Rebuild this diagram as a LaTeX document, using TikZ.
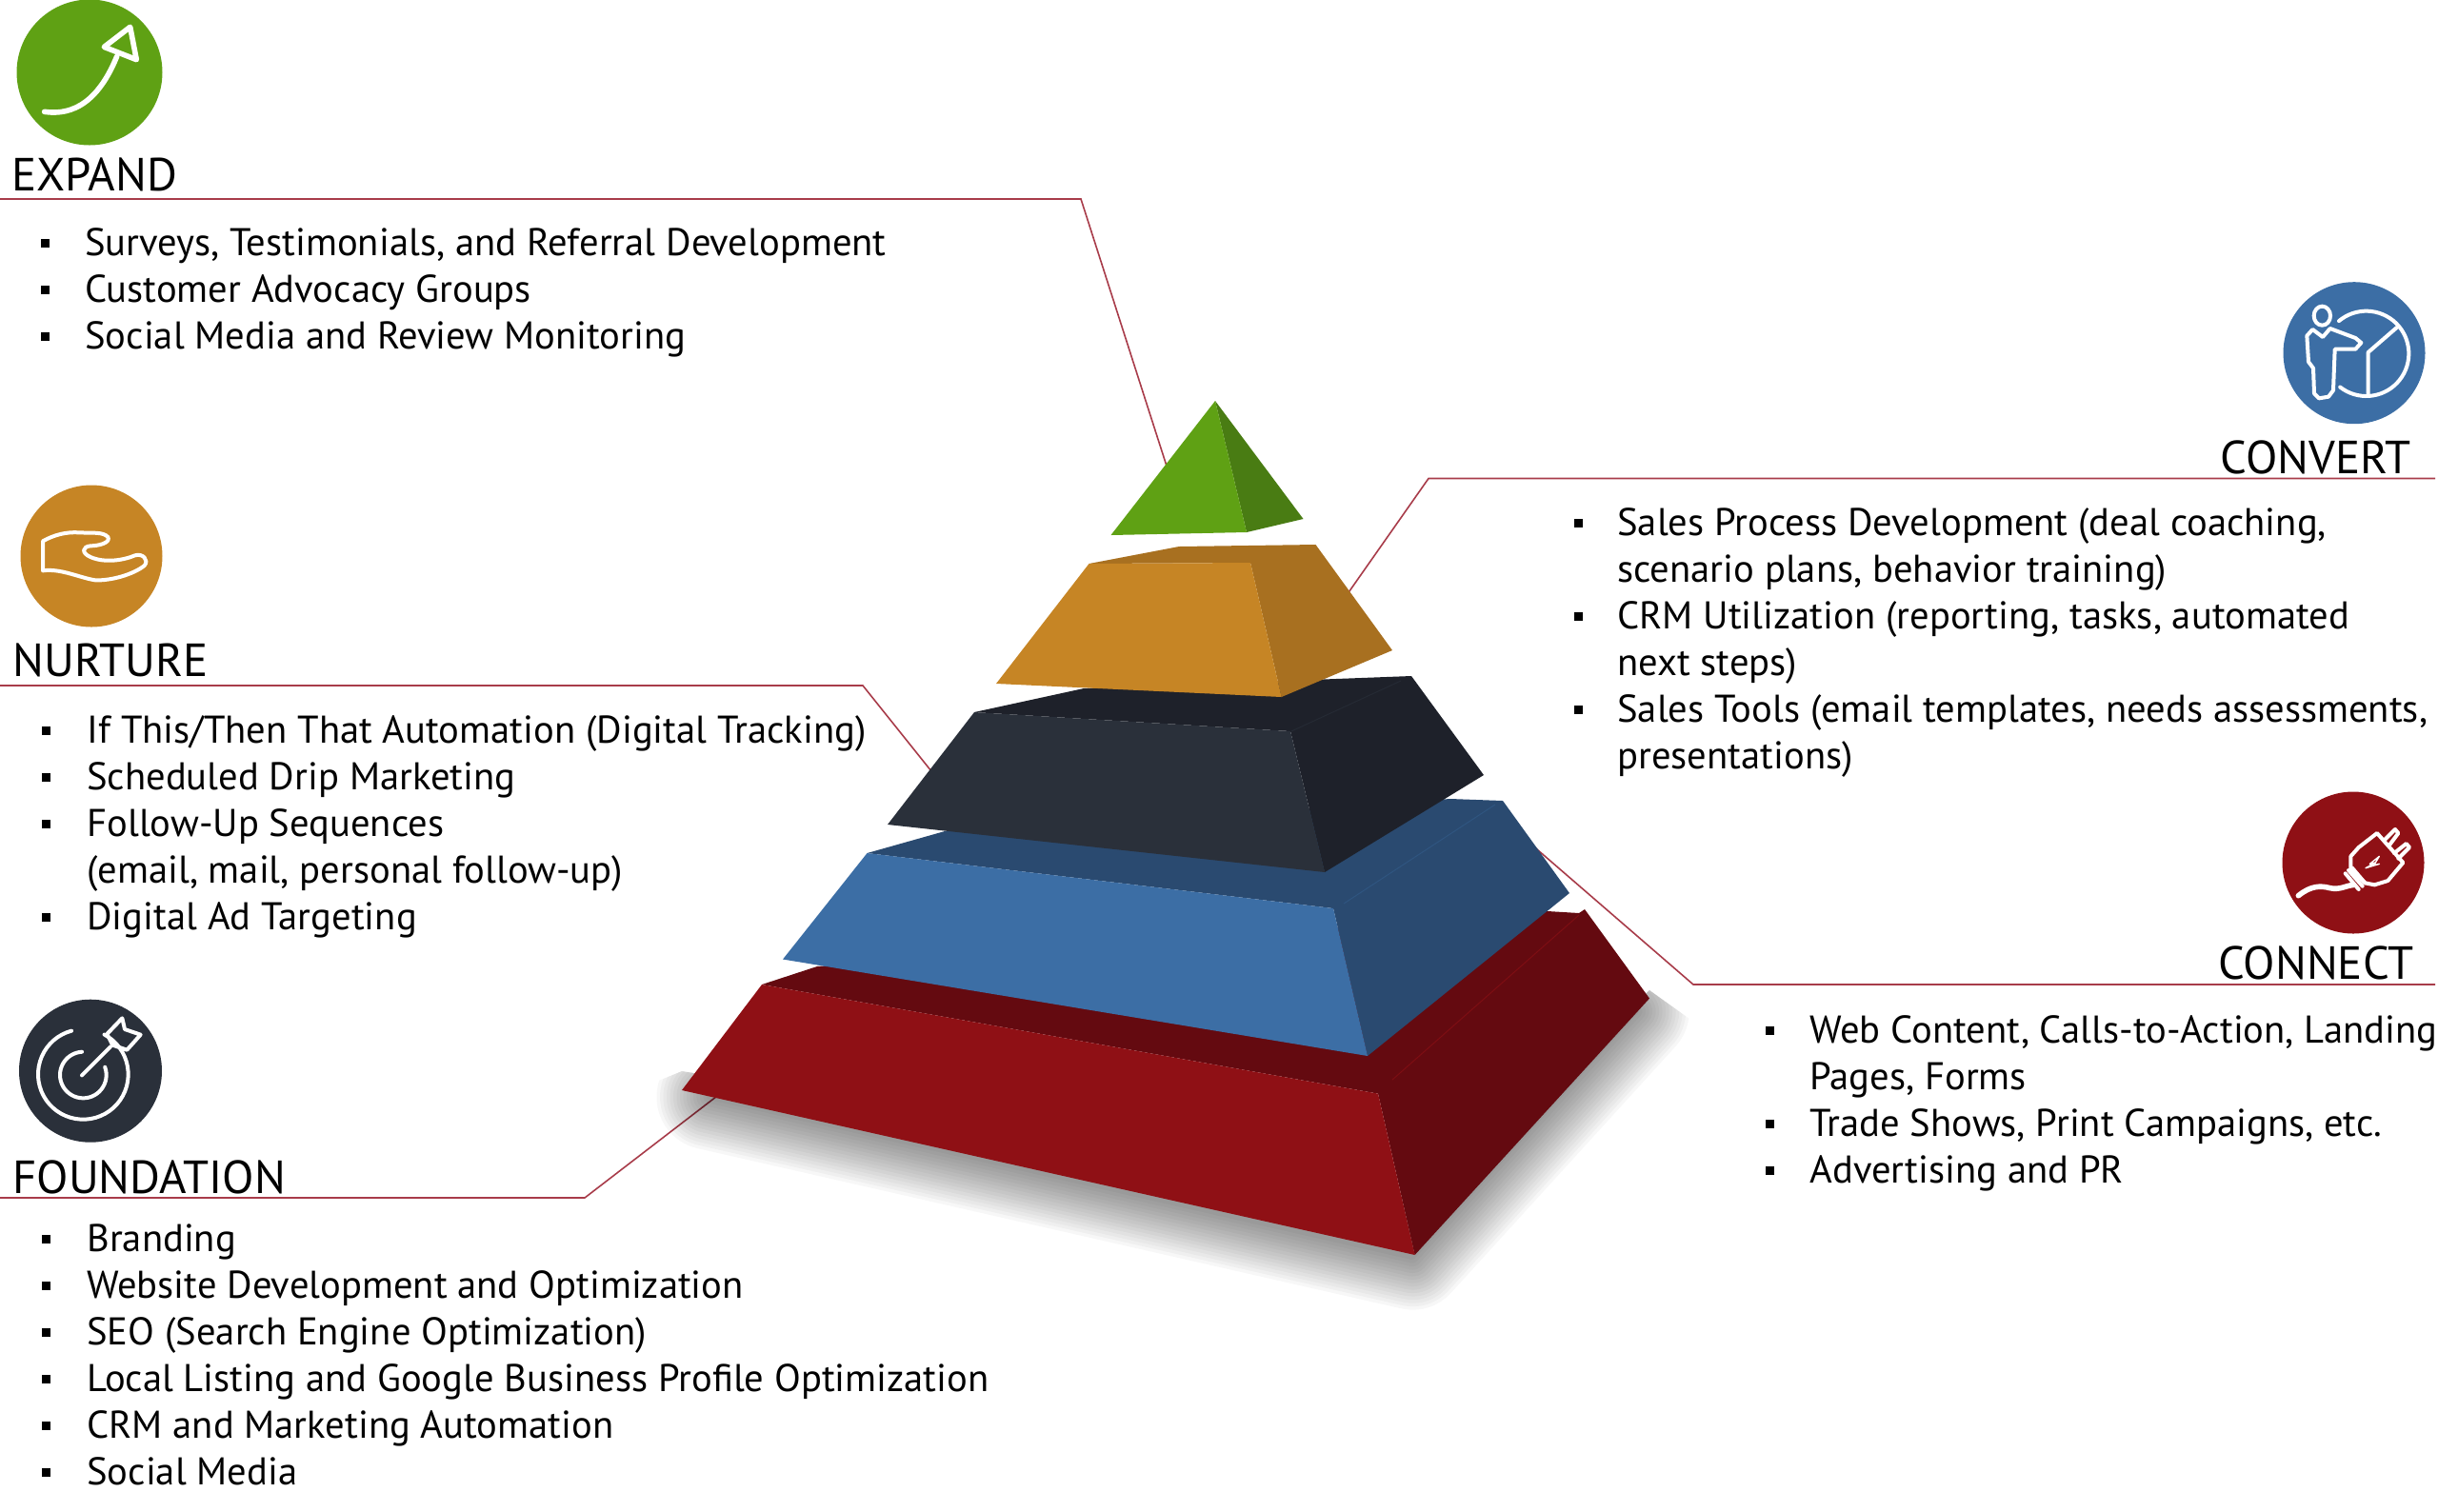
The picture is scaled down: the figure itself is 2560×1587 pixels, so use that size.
\documentclass[tikz,border=0pt]{standalone}
\usepackage{fontspec}
\setmainfont{PT Sans}
\definecolor{conn}{HTML}{A83C4A}
\definecolor{grnA}{HTML}{5FA114}
\definecolor{grnB}{HTML}{497C13}
\definecolor{orgA}{HTML}{C68525}
\definecolor{orgB}{HTML}{A87020}
\definecolor{drkA}{HTML}{2A303A}
\definecolor{drkB}{HTML}{1E212A}
\definecolor{bluA}{HTML}{3C6EA5}
\definecolor{bluB}{HTML}{2A4A70}
\definecolor{redA}{HTML}{8F1015}
\definecolor{redB}{HTML}{640A10}
\tikzset{
  connector/.style={draw=conn,line width=0.8pt,line join=miter},
  heading/.style={anchor=base west,inner sep=0pt,font=\fontsize{24.4}{28}\selectfont},
  headingr/.style={anchor=base east,inner sep=0pt,font=\fontsize{24.4}{28}\selectfont},
  bodytxt/.style={anchor=base west,inner sep=0pt,font=\fontsize{20.3}{24}\selectfont},
  bulmark/.style={rectangle,fill=black,inner sep=0pt,minimum size=4.5pt},
  icon/.style={draw=white,line width=2pt,line join=round,line cap=round},
  iconthin/.style={draw=white,line width=0.7pt,line join=round},
  iconframe/.style={x=0.16667pt,y=-0.16667pt}
}
\newcommand{\bl}[5]{\node[bulmark] (b#1) at (#2,#4-13) {};\node[bodytxt] (t#1) at (#3,#4) {#5};}
\newcommand{\tl}[4]{\node[bodytxt] (t#1) at (#2,#3) {#4};}
\begin{document}
\begin{tikzpicture}[x=0.5pt,y=-0.5pt]
\useasboundingbox (0,0) rectangle (2560,1587);
% connector anchors
\coordinate (ea) at (0,209); \coordinate (eb) at (1135,209); \coordinate (ec) at (1230,505);
\coordinate (ca) at (2557,502.5); \coordinate (cb) at (1500,502.5); \coordinate (cc) at (1400,645);
\coordinate (na) at (0,720); \coordinate (nb) at (906,720); \coordinate (nc) at (990,825);
\coordinate (fa) at (0,1258); \coordinate (fb) at (614,1258); \coordinate (fc) at (770,1138);
\coordinate (xa) at (2557,1034); \coordinate (xb) at (1778,1034); \coordinate (xc) at (1600,880);
\draw[connector] (ea)--(eb)--(ec);
\draw[connector] (ca)--(cb)--(cc);
\draw[connector] (na)--(nb)--(nc);
\draw[connector] (fa)--(fb)--(fc);
\draw[connector] (xa)--(xb)--(xc);
% soft shadow of the base
\begin{scope}
\clip (650,1152) -- (716,1125) -- (1500,1250) -- (1732,1040) -- (1795,1085) -- (1830,1430) -- (640,1430) -- cycle;
\foreach \w in {6,13,...,112}{
  \draw[black,opacity=0.032,line width=\w*0.5pt,line join=round]
    (745,1152) -- (1483,1320) -- (1718,1062) -- (1200,1100) -- cycle;
}
\end{scope}
% pyramid: red
\fill[redB] (800,1034) -- (858,1015) -- (1625,957) -- (1658,959) -- (1664,955) -- (1732,1048.6) -- (1485.6,1318) -- (1447,1148.6) -- cycle;
\fill[redA] (800,1034) -- (1447,1148.6) -- (1485.6,1318) -- (716,1145) -- cycle;
\draw[color=redA!60!redB,line width=0.5pt] (1462,1134) -- (1658,961);
% blue
\fill[bluB] (910.5,896) -- (992,873) -- (1523,839) -- (1578,841) -- (1648,938) -- (1436,1109) -- (1400,954) -- cycle;
\fill[bluA] (910.5,896) -- (1400,954) -- (1436,1109) -- (822,1007.5) -- cycle;
\draw[color=bluA!30!bluB,line width=0.5pt] (1411,949) -- (1570,845);
% dark
\fill[drkB] (1023,748) -- (1138,723) -- (1482,710) -- (1558,814) -- (1391,916) -- (1355,768) -- cycle;
\fill[drkA] (1023,748) -- (1355,768) -- (1391,916) -- (932,866) -- cycle;
\draw[color=drkA!60!drkB,line width=0.5pt] (1356,768) -- (1471,715);
% orange
\fill[orgB] (1143.5,592) -- (1238,574) -- (1381.5,572) -- (1462,683) -- (1345.6,732) -- (1313,591) -- cycle;
\fill[orgA] (1143.5,592) -- (1313,591) -- (1345.6,732) -- (1046,718) -- cycle;
% green
\fill[grnB] (1276,421) -- (1368.5,545) -- (1309,559) -- cycle;
\fill[grnA] (1276,421) -- (1309,559) -- (1166.5,562) -- cycle;
% icon discs
\node[circle,fill=grnA,minimum size=76.5pt,inner sep=0pt] (iexp) at (94,76) {};
\node[circle,fill=bluA,minimum size=74.5pt,inner sep=0pt] (icon) at (2472,370.7) {};
\node[circle,fill=redA,minimum size=74.5pt,inner sep=0pt] (icnn) at (2471,906) {};
\node[circle,fill=orgA,minimum size=74.5pt,inner sep=0pt] (inur) at (96,584) {};
\node[circle,fill=drkA,minimum size=75pt,inner sep=0pt] (ifou) at (95,1124.7) {};
% expand arrow
\begin{scope}[shift={(0,0)},iconframe]
\draw[icon,line width=2.8pt] (140,352) .. controls (230,365) and (310,320) .. (368,178);
\draw[icon,line width=2.8pt] (410,85) -- (430,188) -- (328,148) -- cycle;
\end{scope}
% convert figure and pie
\begin{scope}[shift={(2250,270)},iconframe]
\draw[icon] (565,185) ellipse (26 and 30);
\draw[icon] (535,228) -- (517,248) -- (522,330) -- (537,350) -- (540,430) -- (555,445) -- (585,440) -- (600,420) -- (605,290) -- (670,290) -- (688,270) -- (670,255) -- (590,225) -- (567,252) -- cycle;
\draw[icon] plot[domain=-40:218,samples=50] ({704+134*sin(\x)},{304-134*cos(\x)});
\draw[icon] (800,222) -- (710,300) -- (710,430);
\end{scope}
% connect plug
\begin{scope}[shift={(2250,810)},iconframe]
\draw[icon,line width=2.8pt] (490,392) .. controls (530,360) and (560,360) .. (590,368) .. controls (620,375) and (640,360) .. (665,358);
\draw[icon] (738,195) -- (820,288) -- (772,345) -- (730,358) -- (700,352) -- (655,308) -- (655,268) -- (680,240) -- cycle;
\draw[icon] (638,322) -- (680,372); \draw[icon] (648,312) -- (692,362); \draw[icon] (660,305) -- (700,352);
\draw[icon] (760,218) -- (795,183) -- (805,195) -- (775,235);
\draw[icon] (792,258) -- (830,228) -- (840,240) -- (805,275);
\draw[iconthin] (745,268) -- (715,292) -- (733,288) -- (702,305) -- (745,292) -- (728,296) -- cycle;
\end{scope}
% nurture hand
\begin{scope}[shift={(0,490)},iconframe]
\draw[icon] (135,235) .. controls (170,215) and (210,205) .. (250,208) .. controls (290,210) and (325,205) .. (340,222) .. controls (350,240) and (310,250) .. (285,250) .. controls (260,252) and (255,272) .. (285,285) .. controls (330,305) and (390,295) .. (425,280) .. controls (450,272) and (470,295) .. (455,312) .. controls (420,340) and (350,360) .. (300,358) .. controls (250,350) and (190,320) .. (135,328) -- cycle;
\end{scope}
% foundation target
\begin{scope}[shift={(0,1030)},iconframe]
\draw[icon] plot[domain=28:345,samples=50] ({262+142*sin(\x)},{295-142*cos(\x)});
\draw[icon] plot[domain=70:357,samples=40] ({262+73*sin(\x)},{297-73*cos(\x)});
\draw[icon] (258,298) -- (348,208);
\draw[icon] (337,168) -- (385,118) -- (393,153) -- (443,170) -- (400,218) -- (355,203) -- cycle;
\end{scope}
% headings
\node[heading] (hexp) at (12,200) {EXPAND};
\node[heading] (hnur) at (13,710) {NURTURE};
\node[heading] (hfou) at (13,1253) {FOUNDATION};
\node[headingr] (hcon) at (2532,497) {CONVERT};
\node[headingr] (hcnn) at (2535,1028) {CONNECT};
% expand text
\bl{e1}{47}{89}{268}{Surveys, Testimonials, and Referral Development}
\bl{e2}{47}{89}{317}{Customer Advocacy Groups}
\bl{e3}{47}{89}{366}{Social Media and Review Monitoring}
% nurture text
\bl{n1}{48}{91}{780.5}{If This/Then That Automation (Digital Tracking)}
\bl{n2}{48}{91}{829.5}{Scheduled Drip Marketing}
\bl{n3}{48}{91}{878.5}{Follow-Up Sequences}
\tl{n4}{91}{927.5}{(email, mail, personal follow-up)}
\bl{n5}{48}{91}{976.5}{Digital Ad Targeting}
% foundation text
\bl{f1}{48}{91}{1314}{Branding}
\bl{f2}{48}{91}{1363}{Website Development and Optimization}
\bl{f3}{48}{91}{1412}{SEO (Search Engine Optimization)}
\bl{f4}{48}{91}{1461}{Local Listing and Google Business Profile Optimization}
\bl{f5}{48}{91}{1510}{CRM and Marketing Automation}
\bl{f6}{48}{91}{1559}{Social Media}
% convert text
\bl{c1}{1657}{1698}{562}{Sales Process Development (deal coaching,}
\tl{c2}{1698}{611}{scenario plans, behavior training)}
\bl{c3}{1657}{1698}{660}{CRM Utilization (reporting, tasks, automated}
\tl{c4}{1698}{709}{next steps)}
\bl{c5}{1657}{1698}{758}{Sales Tools (email templates, needs assessments,}
\tl{c6}{1698}{807}{presentations)}
% connect text
\bl{x1}{1858}{1900}{1095.5}{Web Content, Calls-to-Action, Landing}
\tl{x2}{1900}{1144.5}{Pages, Forms}
\bl{x3}{1858}{1900}{1193.5}{Trade Shows, Print Campaigns, etc.}
\bl{x4}{1858}{1900}{1242.5}{Advertising and PR}
\end{tikzpicture}
\end{document}
